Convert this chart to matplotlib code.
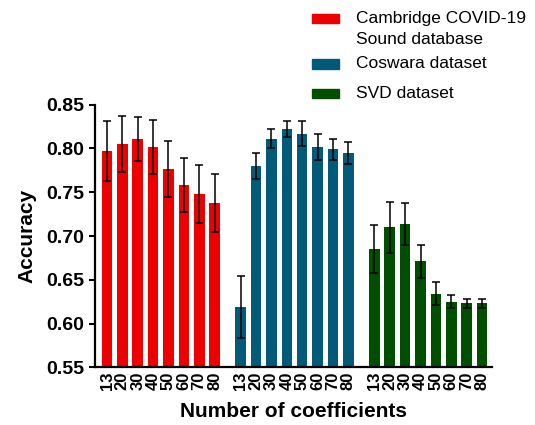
import matplotlib.pyplot as plt
from matplotlib.patches import Rectangle
import numpy as np

plt.rcParams['font.family'] = ['Liberation Sans', 'DejaVu Sans']

coeffs = ['13', '20', '30', '40', '50', '60', '70', '80']

# mean accuracy and error per number of coefficients
cambridge = [0.797, 0.805, 0.811, 0.802, 0.776, 0.758, 0.748, 0.738]
cambridge_err = [0.034, 0.032, 0.025, 0.031, 0.032, 0.031, 0.033, 0.033]
coswara = [0.619, 0.780, 0.811, 0.822, 0.817, 0.802, 0.799, 0.795]
coswara_err = [0.035, 0.015, 0.011, 0.009, 0.014, 0.015, 0.012, 0.0125]
svd = [0.685, 0.710, 0.714, 0.671, 0.634, 0.625, 0.623, 0.623]
svd_err = [0.027, 0.029, 0.024, 0.019, 0.013, 0.0075, 0.005, 0.005]

groups = [
    ('Cambridge COVID-19\nSound database', cambridge, cambridge_err, '#ee0000'),
    ('Coswara dataset', coswara, coswara_err, '#005a78'),
    ('SVD dataset', svd, svd_err, '#004f00'),
]

fig = plt.figure(figsize=(5.35, 4.25), dpi=100)
ax = fig.add_axes([0.1776, 0.1358, 0.742, 0.6178])

group_step = len(coeffs) + 0.7
xticks = []
xlabels = []
for i, (name, vals, errs, color) in enumerate(groups):
    x = np.arange(len(coeffs)) + i * group_step
    ax.bar(x, vals, width=0.69, color=color, bottom=0, zorder=2)
    ax.errorbar(x, vals, yerr=errs, fmt='none', ecolor='black',
                elinewidth=1.1, capsize=3.2, capthick=1.1, zorder=3)
    xticks.extend(x)
    xlabels.extend(coeffs)

ax.set_ylim(0.55, 0.85)
ax.set_xlim(-0.78, 2 * group_step + 7.65)
ax.set_yticks(np.arange(0.55, 0.851, 0.05))
ax.set_yticklabels(['%.2f' % v for v in np.arange(0.55, 0.851, 0.05)])
ax.set_xticks(xticks)
ax.set_xticklabels(xlabels, rotation=90)

for lab in ax.get_xticklabels():
    lab.set_fontweight('bold')
    lab.set_fontsize(12)
for lab in ax.get_yticklabels():
    lab.set_fontweight('bold')
    lab.set_fontsize(14)

ax.tick_params(axis='y', length=4.5, width=1.5, pad=3.5)
ax.tick_params(axis='x', length=0, pad=3)
ax.spines['top'].set_visible(False)
ax.spines['right'].set_visible(False)
ax.spines['left'].set_linewidth(1.6)
ax.spines['bottom'].set_linewidth(1.6)

ax.set_ylabel('Accuracy', fontsize=15, fontweight='bold', labelpad=7)
ax.set_xlabel('Number of coefficients', fontsize=15, fontweight='bold', labelpad=9)

# legend drawn by hand so the swatch sits on the first text line
W, H = 535.0, 425.0
swatch_y = [18.7, 64.0, 93.3]
text_y = [[19.0, 39.3], [63.3], [93.3]]
for (name, vals, errs, color), sy, ty in zip(groups, swatch_y, text_y):
    fig.add_artist(Rectangle((311.7 / W, 1 - (sy + 4.6) / H), 27.3 / W, 9.2 / H,
                             color=color, transform=fig.transFigure))
    for line, yy in zip(name.split('\n'), ty):
        fig.text(356 / W, 1 - yy / H, line, fontsize=12.5, va='center', ha='left')

fig.savefig('out.png', dpi=100)
